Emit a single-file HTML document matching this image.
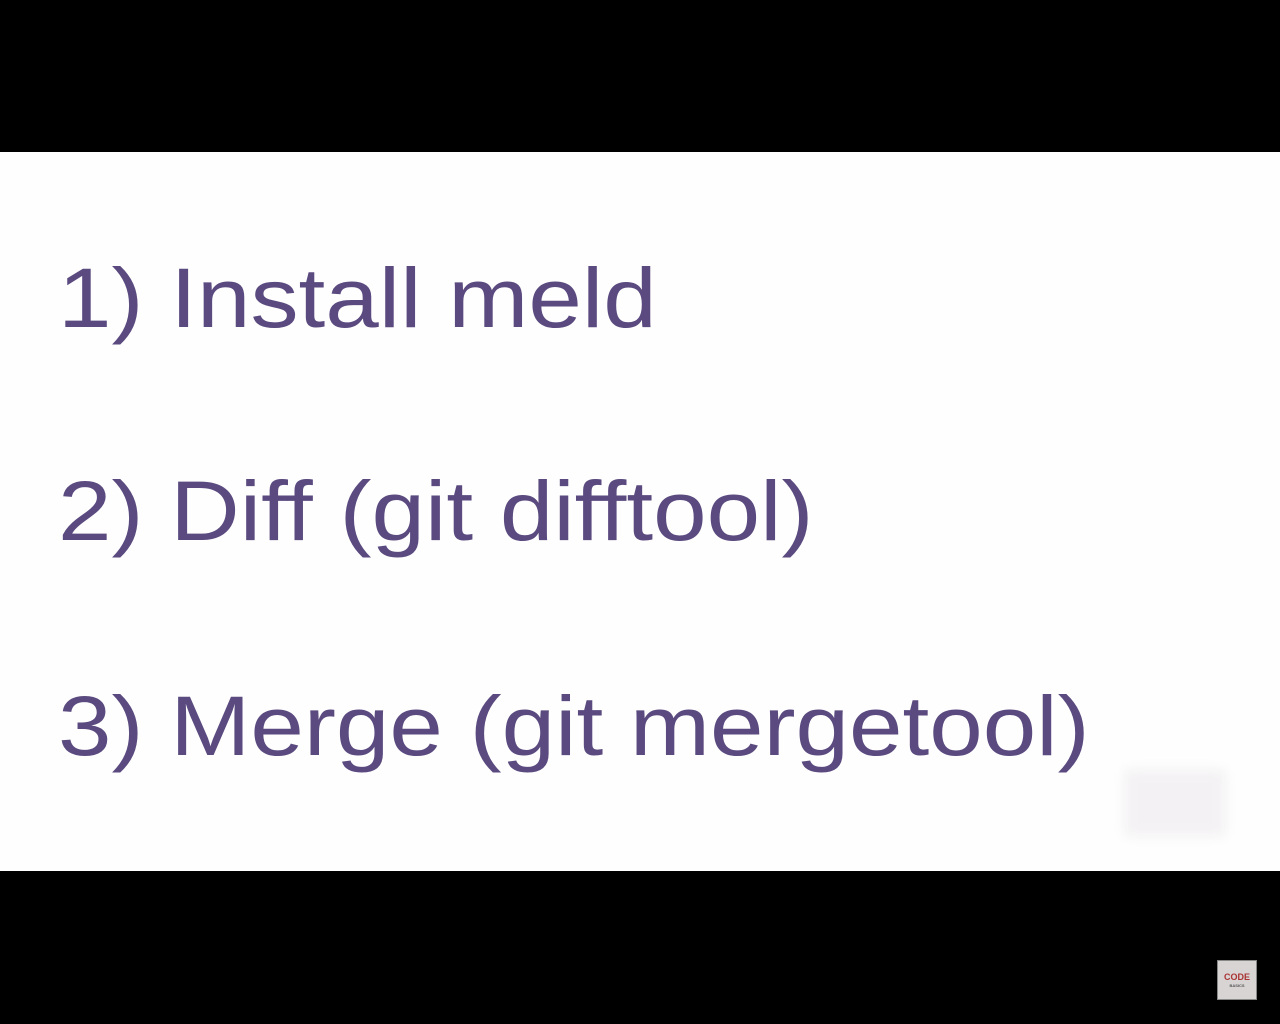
<!DOCTYPE html>
<html>
<head>
<meta charset="utf-8">
<style>
  html,body{margin:0;padding:0;}
  body{width:1280px;height:1024px;background:#000;position:relative;overflow:hidden;font-family:"Liberation Sans",Arial,sans-serif;}
  .slide{position:absolute;left:0;top:152px;width:1280px;height:719px;background:#fefefe;}
  .t{position:absolute;left:58px;font-size:84px;color:#5a4a7f;white-space:nowrap;line-height:1;transform:scaleX(1.145);transform-origin:0 0;}
  .logo{position:absolute;left:1217px;top:960px;width:40px;height:40px;background:#d8d4d4;border:1px solid #888;box-sizing:border-box;font-size:9px;color:#a33;text-align:center;line-height:1;padding-top:12px;font-weight:bold;}
  .logo span{display:block;font-size:4px;color:#555;margin-top:2px;}
  .blur{position:absolute;left:1125px;top:770px;width:100px;height:66px;background:#f3f1f3;filter:blur(6px);}
</style>
</head>
<body>
<div class="slide"></div>
<div class="blur"></div>
<div class="t" style="top:256px;">1) Install meld</div>
<div class="t" style="top:469px;">2) Diff (git difftool)</div>
<div class="t" style="top:684px;">3) Merge (git mergetool)</div>
<div class="logo">CODE<span>BASICS</span></div>
</body>
</html>
